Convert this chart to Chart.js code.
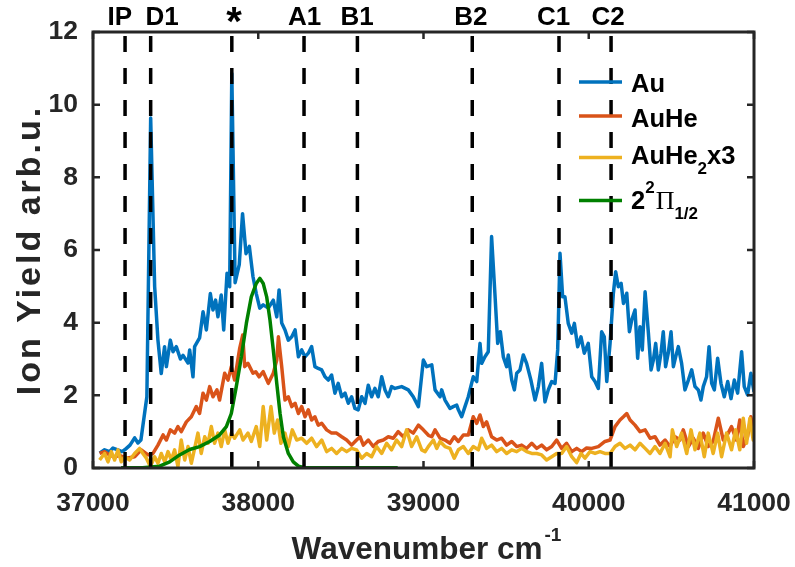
<!DOCTYPE html>
<html>
<head>
<meta charset="utf-8">
<script src="https://cdn.jsdelivr.net/npm/chart.js@4.4.0/dist/chart.umd.min.js"></script>
<style>
  html, body { margin: 0; padding: 0; background: #fff; }
  #myChart { display: block; }
</style>
</head>
<body>
<canvas id="myChart" width="795" height="567"></canvas>
<script>
// Au
const auWavenumber = [37040,37070,37100,37121,37150,37175,37192,37224,37252,37272,37290,37312,37326,37349,37373,37393,37413,37433,37444,37468,
  37484,37504,37529,37545,37575,37585,37605,37615,37645,37666,37686,37710,37726,37742,37756,37776,37791,37811,37827,37840,
  37860,37885,37905,37926,37946,37968,37988,38009,38030,38061,38091,38112,38126,38142,38162,38182,38203,38223,38243,38263,
  38283,38303,38323,38343,38363,38384,38404,38424,38444,38464,38484,38505,38525,38545,38565,38585,38605,38626,38646,38666,
  38686,38706,38726,38747,38767,38787,38807,38827,38868,38908,38938,38969,38999,39019,39050,39070,39100,39110,39130,39160,
  39180,39201,39211,39231,39251,39271,39301,39322,39342,39352,39372,39392,39412,39432,39449,39465,39483,39503,39513,39534,
  39550,39564,39584,39604,39624,39650,39675,39695,39715,39735,39755,39776,39796,39812,39826,39842,39856,39876,39897,39913,
  39933,39953,39973,39997,40018,40038,40058,40078,40094,40109,40129,40149,40163,40179,40196,40210,40230,40246,40260,40280,
  40296,40310,40324,40341,40361,40377,40391,40405,40421,40437,40451,40465,40481,40498,40512,40526,40542,40562,40582,40603,
  40623,40643,40663,40679,40693,40713,40728,40744,40760,40780,40800,40820,40841,40861,40881,40901,40925,40941,40961,40981,41000];
const auYield = [0.41,0.5,0.45,0.55,0.5,0.45,0.5,0.63,0.83,0.69,0.77,1.5,1.96,9.63,5.0,3.52,2.6,3.34,2.79,3.52,
  3.2,3.34,3.0,3.1,2.89,3.25,2.51,3.34,3.58,4.3,3.8,4.8,4.35,4.62,4.16,4.76,3.8,5.36,4.99,10.86,
  5.1,5.6,7.0,5.9,6.1,5.27,4.8,4.4,4.49,4.4,4.62,4.16,4.9,3.99,3.8,3.52,3.61,3.8,3.06,3.25,
  3.06,3.16,3.34,2.79,2.74,2.7,2.51,2.42,2.56,2.06,2.33,1.96,2.06,1.78,1.96,1.64,1.6,1.96,1.78,2.28,
  1.96,2.19,1.96,2.51,2.15,1.96,2.24,2.19,2.24,2.15,1.96,1.69,2.97,2.79,2.84,2.15,1.96,2.15,1.87,1.64,
  1.69,1.73,1.6,1.41,1.69,1.96,2.51,2.38,3.43,2.88,3.06,3.2,6.37,4.81,3.43,3.75,3.06,2.79,3.11,2.42,
  2.15,2.61,2.7,3.11,2.88,2.42,1.87,2.24,2.88,1.82,2.15,2.38,2.33,3.25,5.91,4.71,4.71,3.98,3.71,3.98,
  3.34,3.61,3.16,3.43,2.51,2.38,2.19,3.75,3.61,2.38,3.43,4.81,5.4,4.99,5.08,4.53,4.81,3.75,4.07,4.35,
  3.02,3.89,3.25,4.85,3.71,2.7,2.97,3.43,2.7,3.16,3.75,2.79,3.16,3.75,2.79,3.06,3.34,2.88,2.15,2.42,
  2.7,2.24,2.15,1.87,2.24,2.51,3.34,2.33,2.15,3.02,2.33,1.96,2.38,1.91,2.42,2.06,3.2,2.24,2.01,2.61,2.1];

// AuHe
const auHeWavenumber = [37040,37070,37100,37130,37160,37202,37252,37292,37333,37363,37393,37424,37444,37468,37494,37514,37534,37565,37595,37625,
  37645,37666,37686,37706,37726,37750,37766,37797,37817,37837,37857,37888,37906,37918,37938,37968,37985,38005,38030,38061,
  38091,38112,38122,38142,38162,38182,38203,38223,38243,38263,38283,38303,38323,38343,38363,38384,38414,38444,38474,38505,
  38535,38565,38595,38616,38636,38666,38696,38726,38757,38787,38817,38847,38878,38908,38938,38969,38999,39030,39050,39070,
  39100,39130,39160,39186,39211,39241,39271,39301,39322,39342,39362,39382,39412,39443,39473,39503,39534,39564,39594,39624,
  39655,39685,39715,39745,39776,39806,39836,39866,39897,39927,39957,39987,40018,40058,40098,40129,40159,40189,40210,40230,
  40250,40280,40310,40341,40371,40401,40431,40462,40492,40522,40552,40572,40603,40633,40663,40693,40723,40753,40784,40814,
  40844,40864,40894,40914,40935,40961,40981,41000];
const auHeYield = [0.4,0.45,0.36,0.3,0.35,0.27,0.31,0.5,0.36,0.4,0.63,0.91,0.77,1.05,0.96,1.14,1.0,1.27,1.41,1.69,
  1.5,2.06,1.87,2.24,1.96,2.15,1.87,2.61,2.42,2.79,2.42,3.3,3.66,2.79,2.88,2.61,2.65,2.51,2.65,2.33,
  2.61,2.97,3.61,2.79,1.87,1.96,1.69,1.78,1.5,1.69,1.41,1.6,1.32,1.41,1.18,1.23,1.05,0.96,0.96,0.86,
  0.77,0.63,0.77,0.86,0.63,0.77,0.59,0.73,0.77,0.86,0.82,1.0,0.86,1.05,0.96,1.18,1.05,0.9,0.86,1.05,
  0.82,0.77,0.68,0.86,0.73,0.91,0.91,1.41,1.23,1.46,1.14,1.27,0.86,0.77,0.82,0.63,0.73,0.59,0.63,0.54,
  0.68,0.54,0.63,0.5,0.59,0.77,0.54,0.68,0.45,0.54,0.45,0.55,0.54,0.59,0.73,0.77,1.14,1.32,1.41,1.5,
  1.32,1.18,1.0,1.05,0.82,0.86,0.63,0.77,0.59,0.86,0.77,1.05,0.59,0.82,0.54,0.96,0.59,0.73,1.37,0.77,
  0.96,1.14,0.77,1.32,0.59,0.86,1.41,0.96];

// AuHe2 x3
const auHe2Wavenumber = [37040,37070,37091,37111,37131,37151,37171,37192,37222,37252,37282,37302,37323,37347,37373,37393,37413,37434,37454,37474,
  37494,37514,37534,37555,37575,37595,37615,37635,37655,37676,37696,37716,37736,37756,37776,37797,37817,37837,37857,37888,
  37908,37938,37958,37988,38009,38030,38051,38077,38097,38117,38137,38162,38182,38206,38233,38263,38293,38323,38353,38384,
  38414,38444,38474,38505,38535,38565,38595,38626,38656,38686,38716,38747,38777,38807,38837,38868,38898,38928,38959,38989,
  39010,39029,39060,39080,39100,39130,39160,39186,39211,39241,39271,39301,39332,39352,39382,39412,39443,39473,39503,39534,
  39564,39594,39624,39655,39685,39715,39745,39776,39806,39836,39866,39897,39927,39953,39977,40008,40038,40068,40098,40129,
  40159,40189,40219,40250,40280,40310,40341,40371,40401,40431,40462,40492,40506,40532,40562,40593,40619,40643,40673,40699,
  40723,40753,40780,40804,40834,40864,40889,40914,40935,40955,40975,40995,41000];
const auHe2Yield = [0.22,0.4,0.17,0.45,0.22,0.5,0.17,0.31,0.22,0.4,0.54,0.4,0.27,0.04,0.31,0.13,0.4,0.17,0.45,0.22,
  0.5,0.04,0.77,0.22,0.59,0.13,0.54,0.96,0.4,0.86,0.68,1.14,0.68,0.96,0.59,1.05,0.68,0.96,0.82,1.05,
  0.77,0.96,0.73,1.14,0.59,1.69,0.77,1.69,0.96,1.32,0.68,0.96,0.59,1.05,0.77,0.82,0.68,0.82,0.59,0.77,
  0.45,0.54,0.4,0.54,0.45,0.54,0.5,0.27,0.4,0.31,0.59,0.4,0.68,0.5,0.77,0.59,1.05,0.59,0.86,0.5,
  0.45,0.59,0.77,0.54,0.73,0.59,0.54,0.27,0.5,0.59,0.4,0.59,0.5,0.82,0.54,0.63,0.45,0.54,0.4,0.5,
  0.45,0.54,0.45,0.4,0.4,0.36,0.22,0.31,0.4,0.4,0.59,0.31,0.15,0.4,0.27,0.45,0.4,0.45,0.4,0.4,
  0.59,0.68,0.54,0.63,0.5,0.68,0.54,0.4,0.59,0.4,0.68,0.31,1.05,0.59,0.96,0.4,1.05,0.5,0.96,0.31,
  0.96,0.4,0.96,0.31,0.96,0.5,1.05,0.5,1.37,0.68,1.37,0.77,1.14];

// 2^2 Pi 1/2 simulation
const piWavenumber = [37170,37300,37403,37464,37524,37585,37645,37706,37766,37807,37837,37867,37898,37928,37958,37988,38010,38030,38051,38071,
  38091,38112,38132,38152,38182,38212,38243,38283,38844];
const piYield = [0.01,0.01,0.05,0.17,0.36,0.51,0.59,0.73,0.91,1.14,1.5,2.24,3.06,3.98,4.71,5.08,5.22,5.08,4.71,4.07,
  3.25,2.33,1.5,0.86,0.4,0.17,0.05,0.01,0.01];

// dashed markers
const markerPositions = [37194, 37349, 37840, 38277, 38600, 39295, 39820, 40135];
const markerLabels = ['IP', 'D1', '*', 'A1', 'B1', 'B2', 'C1', 'C2'];
const markerLabelPositions = [37162, 37418, 37853, 38280, 38598, 39287, 39787, 40117];

const xTicks = [37000, 38000, 39000, 40000, 41000];
const yTicks = [0, 2, 4, 6, 8, 10, 12];

const FONT = '"Liberation Sans", Arial, Helvetica, sans-serif';
const AXIS_COLOR = '#262626';

function toPoints(xs, ys) {
    return xs.map((x, i) => ({ x: x, y: ys[i] }));
}

function seriesDataset(xs, ys, color, order) {
    return {
        data: toPoints(xs, ys),
        borderColor: color,
        borderWidth: 3.5,
        borderJoinStyle: 'round',
        pointRadius: 0,
        tension: 0,
        fill: false,
        order: order
    };
}

const datasets = [
    seriesDataset(auWavenumber, auYield, '#0072BD', 10),
    seriesDataset(auHeWavenumber, auHeYield, '#D95319', 9),
    seriesDataset(auHe2Wavenumber, auHe2Yield, '#EDB120', 8),
    seriesDataset(piWavenumber, piYield, '#008000', 7)
];
markerPositions.forEach(p => {
    datasets.push({
        data: [{ x: p, y: 0 }, { x: p, y: 12 }],
        borderColor: '#000000',
        borderWidth: 3.5,
        borderDash: [16, 16],
        borderCapStyle: 'butt',
        pointRadius: 0,
        fill: false,
        order: 0
    });
});

// legend entries with sub/superscripts drawn piece by piece
const legendItems = [
    { color: '#0072BD', y: 82, base: 92, parts: [['Au', 'n']] },
    { color: '#D95319', y: 116, base: 127, parts: [['AuHe', 'n']] },
    { color: '#EDB120', y: 157.5, base: 164, parts: [['AuHe', 'n'], ['2', 'sub'], ['x3', 'n']] },
    { color: '#008000', y: 200.5, base: 208.5, parts: [['2', 'n'], ['2', 'sup'], ['\u03A0', 'serif'], ['1/2', 'sub']] }
];

function drawParts(ctx, parts, x, base) {
    parts.forEach(([txt, kind]) => {
        let font = 'bold 25.5px ' + FONT;
        let y = base;
        if (kind === 'sub') { font = 'bold 17px ' + FONT; y = base + 10; }
        if (kind === 'sup') { font = 'bold 17px ' + FONT; y = base - 16; }
        if (kind === 'serif') { font = '26px "Liberation Serif", "Times New Roman", serif'; }
        ctx.font = font;
        ctx.fillText(txt, x, y);
        x += ctx.measureText(txt).width + (kind === 'sup' ? 1 : 0);
    });
}

const decorPlugin = {
    id: 'decor',
    afterDraw(chart) {
        const { ctx, chartArea: a, scales: { x, y } } = chart;
        ctx.save();

        // box and inward ticks
        ctx.strokeStyle = AXIS_COLOR;
        ctx.lineWidth = 3;
        ctx.strokeRect(a.left, a.top, a.right - a.left, a.bottom - a.top);
        ctx.lineWidth = 2.5;
        ctx.beginPath();
        xTicks.forEach(v => {
            const px = x.getPixelForValue(v);
            ctx.moveTo(px, a.bottom); ctx.lineTo(px, a.bottom - 7);
            ctx.moveTo(px, a.top); ctx.lineTo(px, a.top + 7);
        });
        yTicks.forEach(v => {
            const py = y.getPixelForValue(v);
            ctx.moveTo(a.left, py); ctx.lineTo(a.left + 7, py);
            ctx.moveTo(a.right, py); ctx.lineTo(a.right - 7, py);
        });
        ctx.stroke();

        // labels above the dashed lines
        ctx.fillStyle = '#000';
        ctx.textAlign = 'center';
        ctx.textBaseline = 'alphabetic';
        markerLabels.forEach((lab, i) => {
            const px = x.getPixelForValue(markerLabelPositions[i]);
            if (lab === '*') {
                ctx.font = 'bold 40px ' + FONT;
                ctx.fillText(lab, px, 35);
            } else {
                ctx.font = 'bold 26px ' + FONT;
                ctx.fillText(lab, px, 24.5);
            }
        });

        // x axis title with superscript
        ctx.fillStyle = AXIS_COLOR;
        ctx.textAlign = 'left';
        ctx.font = 'bold 31.5px ' + FONT;
        const mainTxt = 'Wavenumber cm';
        const w1 = ctx.measureText(mainTxt).width;
        ctx.font = 'bold 19px ' + FONT;
        const supTxt = '-1';
        const w2 = ctx.measureText(supTxt).width;
        const cx = (a.left + a.right) / 2 + 3;
        const startX = cx - (w1 + w2 + 2) / 2;
        ctx.font = 'bold 31.5px ' + FONT;
        ctx.fillText(mainTxt, startX, 559);
        ctx.font = 'bold 19px ' + FONT;
        ctx.fillText(supTxt, startX + w1 + 2, 541);

        // y axis title
        ctx.save();
        ctx.translate(40, (a.top + a.bottom) / 2);
        ctx.rotate(-Math.PI / 2);
        ctx.textAlign = 'center';
        ctx.font = 'bold 34px ' + FONT;
        if ('letterSpacing' in ctx) ctx.letterSpacing = '3px';
        ctx.fillText('Ion Yield arb.u.', 0, 0);
        ctx.restore();

        // legend
        ctx.fillStyle = '#000';
        ctx.textAlign = 'left';
        legendItems.forEach(item => {
            ctx.strokeStyle = item.color;
            ctx.lineWidth = 3.5;
            ctx.beginPath();
            ctx.moveTo(579, item.y);
            ctx.lineTo(622, item.y);
            ctx.stroke();
            drawParts(ctx, item.parts, 631, item.base);
        });

        ctx.restore();
    }
};

const chart = document.getElementById('myChart');
const myChart = new Chart(chart, {
    type: 'line',
    data: { datasets: datasets },
    options: {
        responsive: false,
        animation: false,
        devicePixelRatio: 1,
        layout: { padding: { top: 32, right: 41, left: 0, bottom: 0 } },
        plugins: {
            legend: { display: false },
            tooltip: { enabled: false }
        },
        scales: {
            x: {
                type: 'linear',
                min: 37000,
                max: 41000,
                afterBuildTicks: axis => { axis.ticks = xTicks.map(v => ({ value: v })); },
                afterFit: s => { s.height = 99; s.paddingLeft = 0; s.paddingRight = 0; },
                grid: { display: false, drawTicks: false },
                border: { display: false },
                ticks: {
                    color: AXIS_COLOR,
                    font: { family: FONT, size: 26.5, weight: 'bold' },
                    padding: 20,
                    maxRotation: 0,
                    callback: v => String(v)
                }
            },
            y: {
                type: 'linear',
                min: 0,
                max: 12,
                afterBuildTicks: axis => { axis.ticks = yTicks.map(v => ({ value: v })); },
                afterFit: s => { s.width = 93; s.paddingTop = 0; s.paddingBottom = 0; },
                grid: { display: false, drawTicks: false },
                border: { display: false },
                ticks: {
                    color: AXIS_COLOR,
                    font: { family: FONT, size: 26.5, weight: 'bold' },
                    padding: 15,
                    callback: v => String(v)
                }
            }
        }
    },
    plugins: [decorPlugin]
});
</script>
</body>
</html>
